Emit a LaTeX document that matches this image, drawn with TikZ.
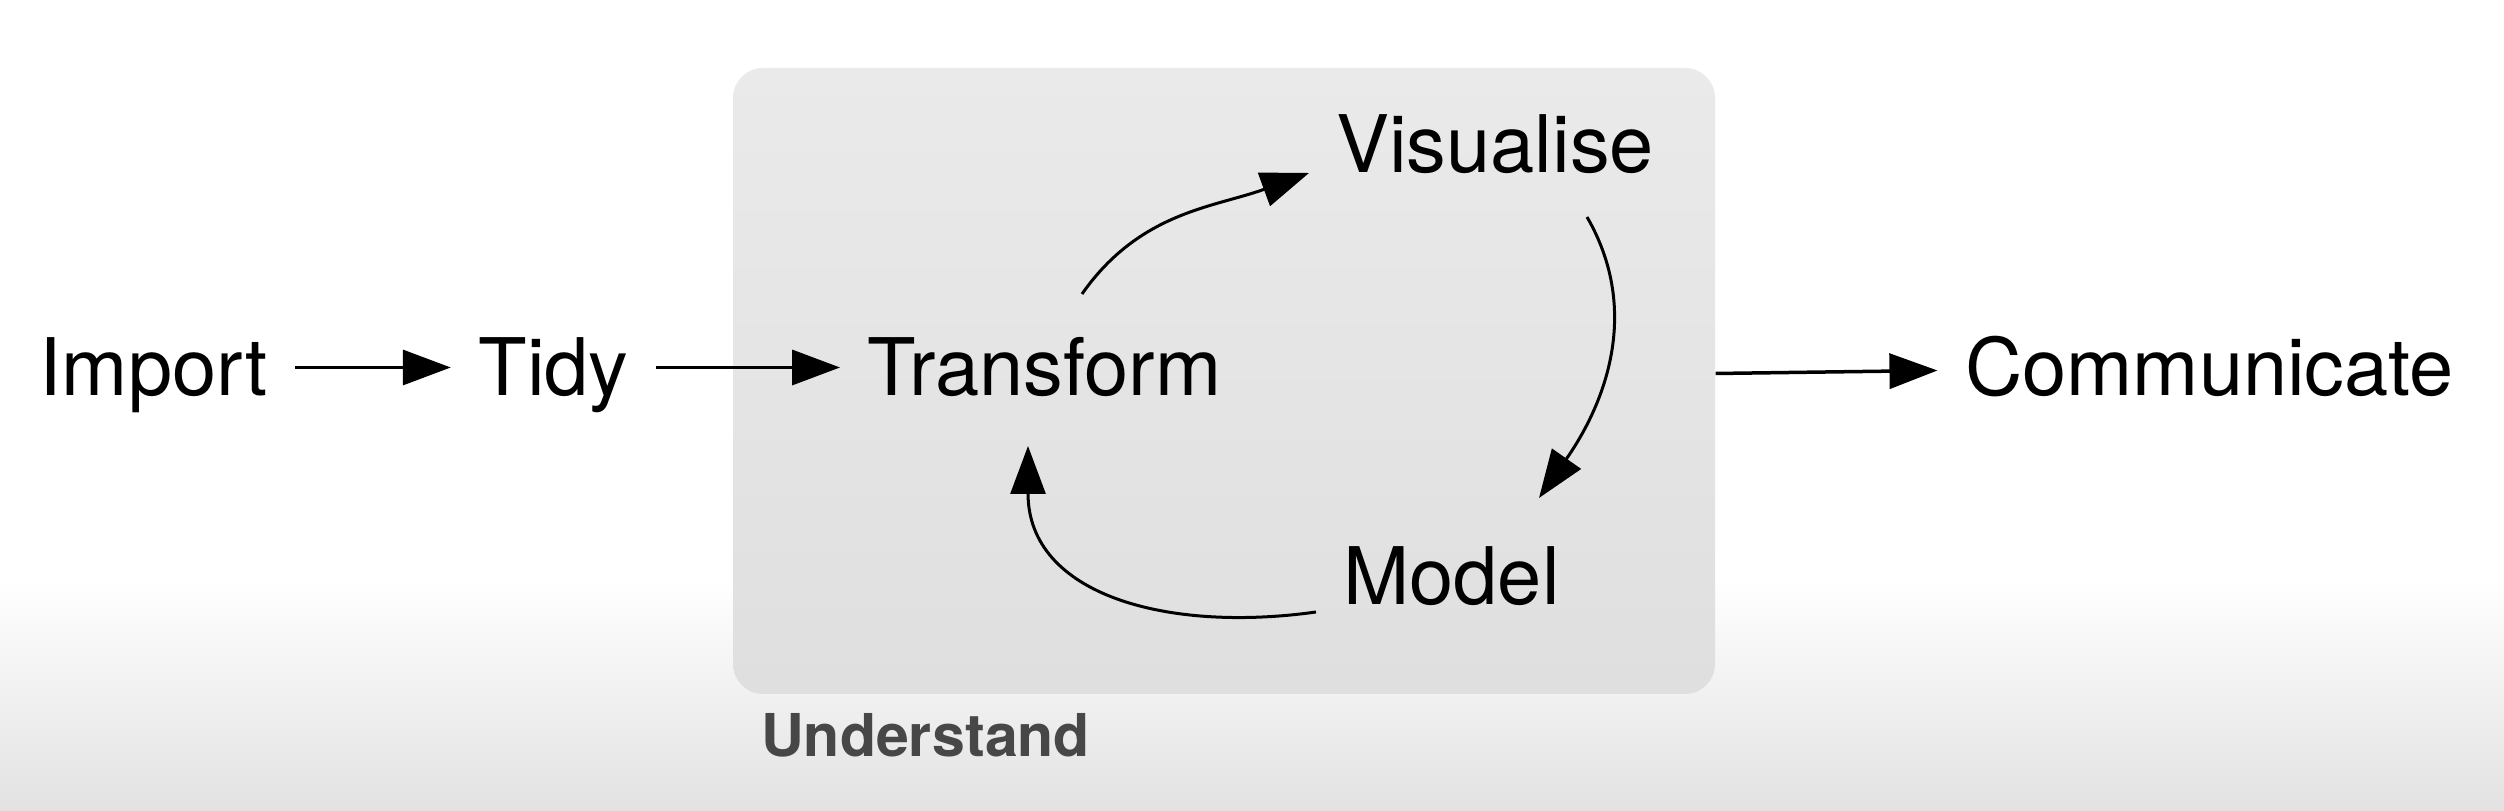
\documentclass[tikz,border=0pt]{standalone}
\usepackage{fontspec}
\setmainfont{TeX Gyre Heros}
\usetikzlibrary{arrows.meta}
\definecolor{bggray}{HTML}{E2E2E2}
\definecolor{boxtop}{HTML}{EAEAEA}
\definecolor{boxbottom}{HTML}{DFDFDF}
\definecolor{labelgray}{HTML}{474747}
\tikzset{
  stage/.style={font=\fontsize{22.6}{27}\selectfont, text height=5.7mm, text depth=0pt, inner xsep=2.7mm, inner ysep=0pt},
  flow/.style={-{Triangle[length=4.8mm,width=3.5mm]}, line width=0.35mm},
  loopflow/.style={-{Triangle[length=4.8mm,width=3.5mm]}, line width=0.3mm},
  boxed/.style={rounded corners=3mm, top color=boxtop, middle color=boxtop, bottom color=boxbottom, minimum width=98.2mm, minimum height=62.6mm},
}
\begin{document}
\begin{tikzpicture}[x=0.1mm,y=0.1mm]
\useasboundingbox (0,0) rectangle (2504,811);
\fill[white] (0,0) rectangle (2504,811);
\shade[top color=white, bottom color=bggray] (0,0) rectangle (2504,231);
\node[boxed] (understand) at (1224,430){};
\node[font=\bfseries\fontsize{16.8}{20}\selectfont, text=labelgray] (understandlabel) at (925.5,76){Understand};
\node[stage] (import) at (153.5,443.5){Import};
\node[stage] (tidy) at (553.5,443.5){Tidy};
\node[stage] (transform) at (1044.5,443.5){Transform};
\node[stage] (visualise) at (1495,667){Visualise};
\node[stage] (model) at (1451.5,235){Model};
\node[stage] (communicate) at (2209.5,443.5){Communicate};
\draw[flow](import) -- (tidy);
\draw[flow](tidy) -- (transform);
\draw[loopflow]([shift={(37.5,73.5)}]transform.center) to[out=55, in=200] ([shift={(-186,-29)}]visualise.center);
\draw[loopflow]([shift={(92,-73)}]visualise.center) to[out=-60, in=55] ([shift={(87.5,78)}]model.center);
\draw[loopflow]([shift={(-135.5,-36)}]model.center) to[out=188, in=-90, looseness=1.15] ([shift={(-16.5,-78.5)}]transform.center);
\draw[flow]([yshift=0.75mm]understand.east) -- ([yshift=-0.3mm]communicate.west);
\end{tikzpicture}
\end{document}
